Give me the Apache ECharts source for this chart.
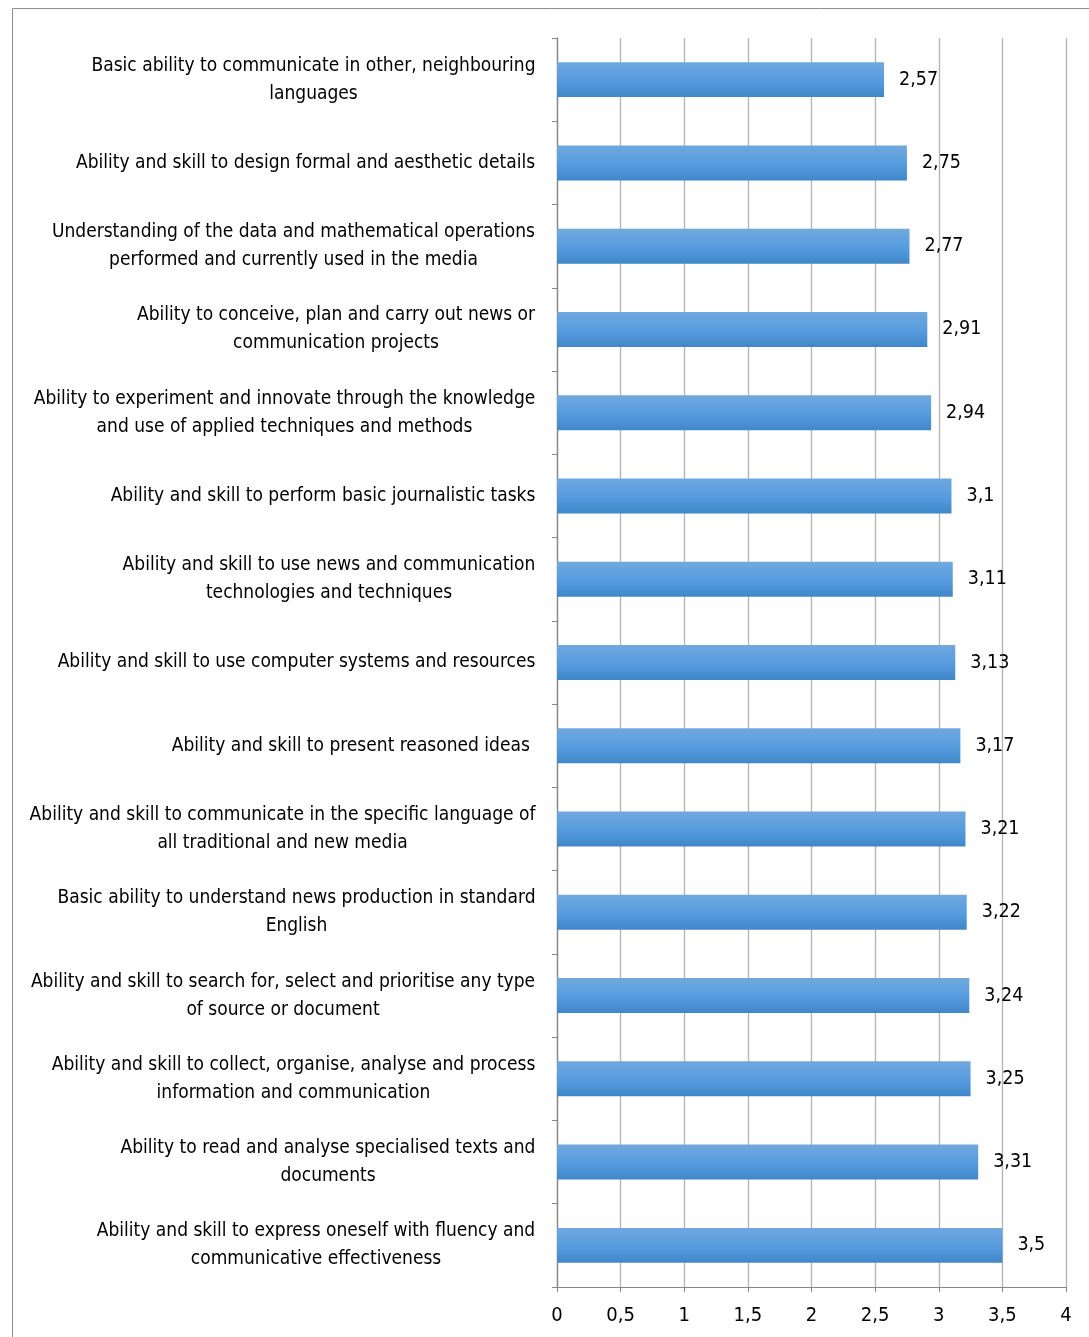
<!DOCTYPE html>
<html>
<head>
<meta charset="utf-8">
<script src="https://cdn.jsdelivr.net/npm/echarts@6/dist/echarts.min.js"></script>
<style>
  html, body { margin: 0; padding: 0; background: #fff; }
  #chart { width: 1089px; height: 1337px; }
</style>
</head>
<body>
<div id="chart"></div>
<script>
// Skills, listed top to bottom
const categories = [
  'Basic ability to communicate in other, neighbouring\nlanguages',
  'Ability and skill to design formal and aesthetic details',
  'Understanding of the data and mathematical operations\nperformed and currently used in the media',
  'Ability to conceive, plan and carry out news or\ncommunication projects',
  'Ability to experiment and innovate through the knowledge\nand use of applied techniques and methods',
  'Ability and skill to perform basic journalistic tasks',
  'Ability and skill to use news and communication\ntechnologies and techniques',
  'Ability and skill to use computer systems and resources',
  'Ability and skill to present reasoned ideas ',
  'Ability and skill to communicate in the specific language of\nall traditional and new media',
  'Basic ability to understand news production in standard\nEnglish',
  'Ability and skill to search for, select and prioritise any type\nof source or document',
  'Ability and skill to collect, organise, analyse and process\ninformation and communication',
  'Ability to read and analyse specialised texts and\ndocuments',
  'Ability and skill to express oneself with fluency and\ncommunicative effectiveness'
];
const scores = [2.57, 2.75, 2.77, 2.91, 2.94, 3.1, 3.11, 3.13, 3.17, 3.21, 3.22, 3.24, 3.25, 3.31, 3.5];
const axisTicks = [0, 0.5, 1, 1.5, 2, 2.5, 3, 3.5, 4];

const FONT = "'Liberation Sans Narrow', 'Arial Narrow', 'DejaVu Sans Condensed', sans-serif";
const CAT_SIZE = 19;
const comma = v => String(v).replace('.', ',');

// Each category label is a block right-aligned to the axis, with its lines
// centred against the widest line of that block.
const measureCtx = document.createElement('canvas').getContext('2d');
measureCtx.font = CAT_SIZE + 'px ' + FONT;
const rich = {};
categories.forEach((c, i) => {
  const w = Math.max(...c.split('\n').map(s => measureCtx.measureText(s).width));
  rich['c' + i] = {
    width: Math.ceil(w) + 1, align: 'center', fontSize: CAT_SIZE,
    lineHeight: 28, color: '#000', fontFamily: FONT
  };
});

const chart = echarts.init(document.getElementById('chart'));
chart.setOption({
  animation: false,
  backgroundColor: '#ffffff',
  textStyle: { fontFamily: FONT },
  graphic: [{
    type: 'rect',
    shape: { x: 12.5, y: 8.5, width: 1100, height: 1400 },
    style: { fill: 'none', stroke: '#8c8c8c', lineWidth: 1 },
    silent: true
  }],
  grid: { left: 557, right: 23, top: 38, bottom: 50, containLabel: false, outerBoundsMode: 'none' },
  xAxis: {
    type: 'value',
    min: axisTicks[0],
    max: axisTicks[axisTicks.length - 1],
    interval: 0.5,
    axisLine: { show: true, lineStyle: { color: '#868686', width: 1 } },
    axisTick: { show: true, length: 5, lineStyle: { color: '#868686' } },
    axisLabel: {
      formatter: comma, fontSize: 20, color: '#000', margin: 19,
      fontFamily: FONT
    },
    splitLine: { show: true, lineStyle: { color: '#b3b3b3', width: 1.3 } }
  },
  yAxis: {
    type: 'category',
    inverse: true,
    data: categories,
    axisLine: { show: true, lineStyle: { color: '#868686', width: 1.3 } },
    axisTick: { show: true, length: 5, inside: false, lineStyle: { color: '#868686' } },
    axisLabel: {
      margin: 21, align: 'right',
      formatter: (value, idx) => value.split('\n').map(s => '{c' + idx + '|' + s + '}').join('\n'),
      rich: rich
    },
    splitLine: { show: false }
  },
  series: [{
    type: 'bar',
    data: scores,
    barWidth: '42%',
    itemStyle: {
      color: new echarts.graphic.LinearGradient(0, 0, 0, 1, [
        { offset: 0, color: '#70a8de' },
        { offset: 0.5, color: '#589ddf' },
        { offset: 1, color: '#3f87c9' }
      ])
    },
    label: {
      show: true,
      position: 'right',
      distance: 15,
      formatter: p => comma(p.value),
      fontSize: 19.5,
      color: '#000',
      fontFamily: FONT
    }
  }]
});
</script>
</body>
</html>
